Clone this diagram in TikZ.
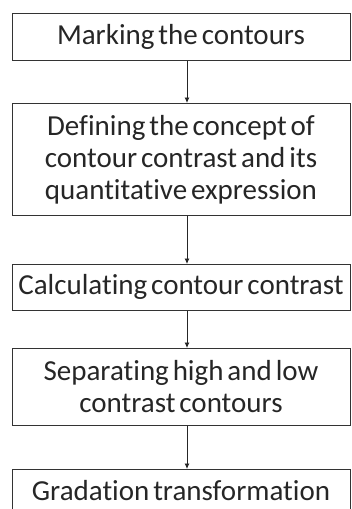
\documentclass[tikz,border=0pt]{standalone}
\usepackage{fontspec}
\setmainfont{Carlito}[Ligatures=NoCommon, WordSpace=0.6]
\usetikzlibrary{arrows.meta}

\begin{document}
\begin{tikzpicture}[x=1pt, y=1pt, >={Latex[length=5.5pt,width=5pt]},
  stepbox/.style={draw=black!80, line width=0.8pt, minimum width=338pt, align=center, anchor=north, inner sep=0pt, text=black!85, font=\fontsize{29}{32}\selectfont},
  flow/.style={->, draw=black!85, line width=0.8pt}]
\useasboundingbox (0,0) rectangle (352,-509);
\clip (0,0) rectangle (352,-509);
\node[stepbox, minimum height=47pt] (marking) at (181,-13) {Marking the contours};
\node[stepbox, minimum height=112pt] (defining) at (181,-103) {Defining the concept of\\contour contrast and its\\quantitative expression};
\node[stepbox, minimum height=46pt] (calc) at (181,-264) {Calculating contour contrast};
\node[stepbox, minimum height=77pt] (separating) at (181,-348) {Separating high and low\\contrast contours};
\node[stepbox, minimum height=42pt] (gradation) at (181,-469) {Gradation transformation};
\draw[flow] ([xshift=6pt]marking.south) -- ([xshift=6pt]defining.north);
\draw[flow] ([xshift=6pt]defining.south) -- ([xshift=6pt]calc.north);
\draw[flow] ([xshift=6pt]calc.south) -- ([xshift=6pt]separating.north);
\draw[flow] ([xshift=6pt]separating.south) -- ([xshift=6pt]gradation.north);
\end{tikzpicture}
\end{document}
